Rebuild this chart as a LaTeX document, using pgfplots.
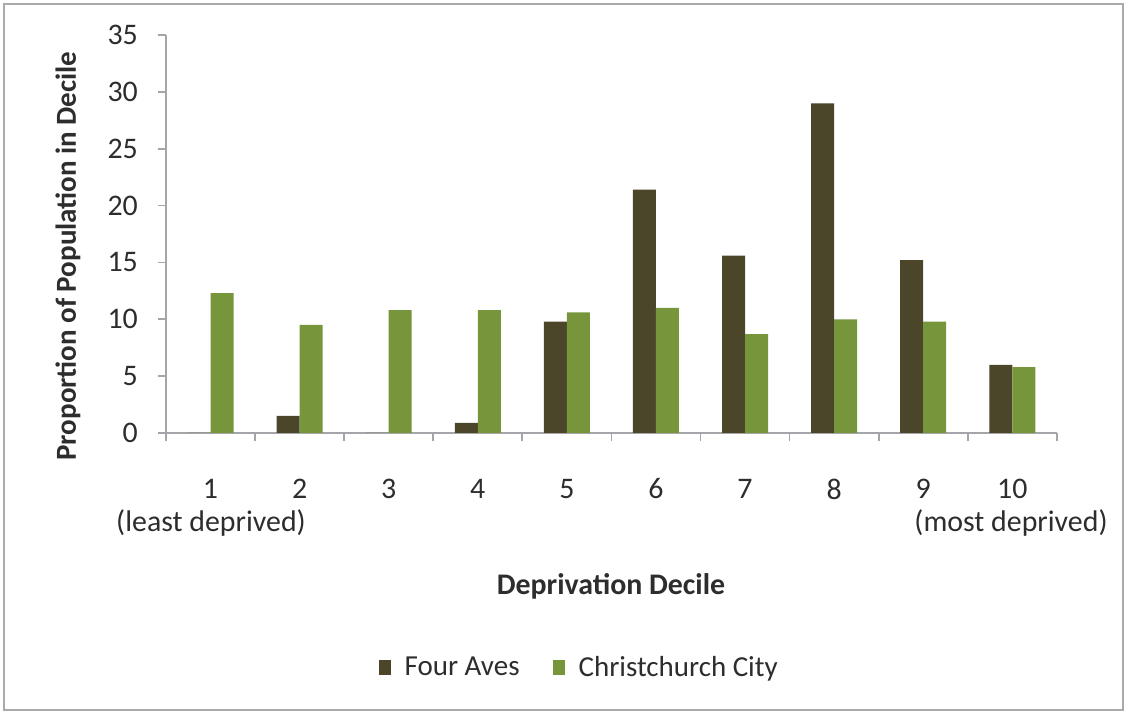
\documentclass[border=0pt]{standalone}
\usepackage{pgfplots}
\pgfplotsset{compat=1.18}
\usepackage{fontspec}
\setmainfont{Carlito}

\definecolor{fouraves}{RGB}{75,69,42}
\definecolor{chch}{RGB}{119,150,59}
\definecolor{axisgray}{RGB}{165,165,170}
\definecolor{txt}{RGB}{45,45,45}
\definecolor{frame}{RGB}{170,170,170}

% Share of population in each deprivation decile
\pgfplotstableread{
decile fouraves chch
1  0.0  12.3
2  1.5  9.5
3  0.0  10.8
4  0.9  10.8
5  9.8  10.6
6  21.4 11.0
7  15.6 8.7
8  29.0 10.0
9  15.2 9.8
10 6.0  5.8
}\deciles

\begin{document}
\begin{tikzpicture}[x=0.02cm,y=0.02cm,font=\fontsize{17}{20}\selectfont,text=txt]
% page extent and chart frame
\path (0,0) rectangle (1128,715);
\draw[frame, line width=1.2pt] (4,5) rectangle (1123,711);
\coordinate (plotorigin) at (166,282);

\begin{axis}[
  at={(plotorigin)}, anchor=south west,
  scale only axis, width=17.82cm, height=7.96cm,
  xmin=0.5, xmax=10.5, ymin=0, ymax=35,
  ybar=0pt, bar width=0.46cm,
  axis lines*=left,
  axis line style={axisgray, line width=1.1pt},
  tick align=outside,
  ytick={0,5,...,35},
  ytick style={axisgray, line width=1pt},
  major tick length=0.16cm,
  yticklabel style={font=\fontsize{17}{20}\selectfont, text=txt, xshift=-0.28cm},
  xtick={1,...,10},
  xtick style={draw=none},
  xticklabel style={anchor=center, yshift=-0.96cm, font=\fontsize{17}{20}\selectfont, text=txt},
  extra x ticks={0.5,1.5,...,10.5},
  extra x tick labels={},
  extra x tick style={xtick style={axisgray, line width=1pt, draw=axisgray}},
  /pgf/number format/assume math mode=true,
  legend style={at={(0.465,-0.59)}, anchor=center, draw=none, fill=none,
    legend columns=2, font=\fontsize{16.5}{20}\selectfont,
    /tikz/every even column/.append style={column sep=0.6cm}},
  legend image code/.code={\fill[#1,draw=none] (0cm,-0.15cm) rectangle (0.24cm,0.15cm);
    \path (0.44cm,0cm);},
]
\addplot[fill=fouraves, draw=none] table[x=decile, y=fouraves] {\deciles};
\addlegendentry{Four Aves}
\addplot[fill=chch, draw=none] table[x=decile, y=chch] {\deciles};
\addlegendentry{Christchurch City}
\end{axis}

\node at (211,192) {(least deprived)};
\node at (1011,192) {(most deprived)};
\node[font=\fontsize{17}{20}\selectfont\bfseries] at (611,129) {Deprivation Decile};
\node[rotate=90, font=\fontsize{16.5}{20}\selectfont\bfseries] at (68,459) {Proportion of Population in Decile};
\end{tikzpicture}
\end{document}
